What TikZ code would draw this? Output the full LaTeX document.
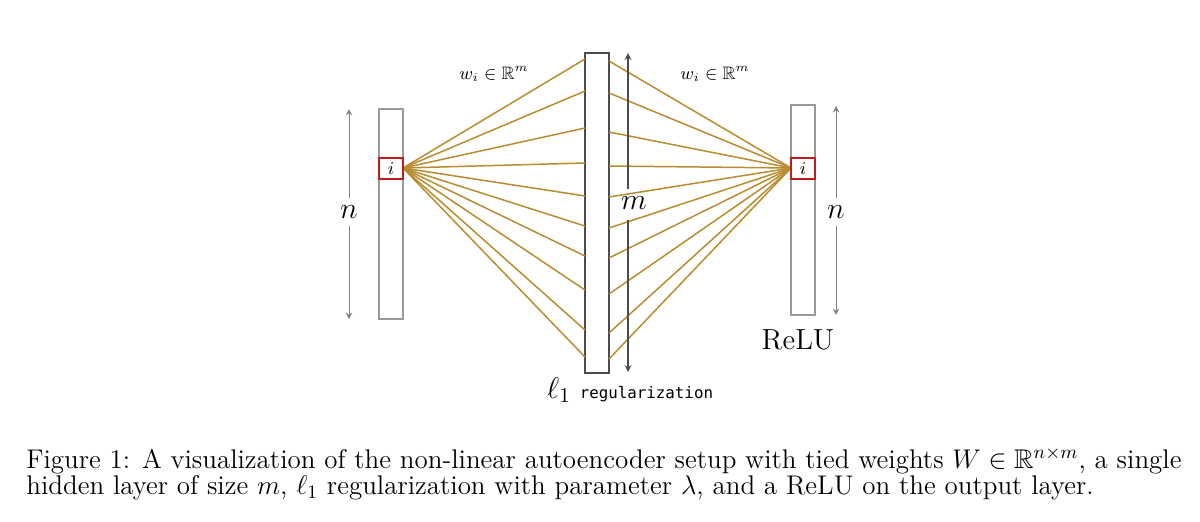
\documentclass[tikz,border=0pt]{standalone}
\usepackage{fix-cm}
\usepackage{amssymb}
\usepackage{fontspec}
\newfontfamily\monofam{DejaVu Sans Mono}
\definecolor{gold}{RGB}{184,140,48}
\definecolor{redbox}{RGB}{190,30,30}
\newcommand{\fs}[1]{\fontsize{#1}{#1}\selectfont}
\begin{document}
\begin{tikzpicture}[x=0.5pt,y=-0.5pt,
  bar/.style={draw=gray!80,line width=0.6pt},
  wline/.style={draw=gold,line width=0.75pt},
  dim/.style={draw=black!70,line width=0.45pt,-stealth},
  box/.style={draw=redbox,line width=0.8pt,fill=white}]
\useasboundingbox (0,0) rectangle (1200,521);
\draw[bar] (379,109) rectangle (403,319);
\draw[bar] (791,105) rectangle (815,315);
\draw[draw=black!70,line width=1pt] (585,53) rectangle (609,373);
\coordinate (L) at (403,168);
\coordinate (R) at (791,168);
\foreach \y [count=\k] in {59,91,128,163,196,226,256,290,330,357}{
  \coordinate (ml\k) at (585,\y);
  \draw[wline] (L) -- (ml\k);}
\foreach \y [count=\k] in {61,93,132,166,197,228,258,294,333,359}{
  \coordinate (mr\k) at (609,\y);
  \draw[wline] (mr\k) -- (R);}
\node[box,minimum width=12pt,minimum height=10.5pt,inner sep=0pt,font=\fs{9}] (bi) at (391,168.5) {$i$};
\node[box,minimum width=12pt,minimum height=10.5pt,inner sep=0pt,font=\fs{9}] (bo) at (803,168.5) {$i$};
\node[font=\fs{15}] (nl) at (349,212) {$n$};
\draw[dim,draw=black!50] (nl.north) -- (349,109);
\draw[dim,draw=black!50] (nl.south) -- (349,319);
\node[font=\fs{15}] (nr) at (836,212) {$n$};
\draw[dim,draw=black!50] (nr.north) -- (836,106);
\draw[dim,draw=black!50] (nr.south) -- (836,315);
\node[font=\fs{15}] (mm) at (634,203) {$m$};
\coordinate (mt) at (628,53);
\coordinate (mb) at (628,372);
\coordinate (m1) at (628,189);
\coordinate (m2) at (628,220);
\draw[dim,line width=0.55pt] (m1) -- (mt);
\draw[dim,line width=0.55pt] (m2) -- (mb);
\node[font=\fs{9}] (w1) at (494,74) {$w_i\in\mathbb{R}^m$};
\node[font=\fs{9}] (w2) at (715,74) {$w_i\in\mathbb{R}^m$};
\node[font=\fs{14.5}] (relu) at (798,340) {ReLU};
\node[font=\fs{15}] (reg) at (630,390) {$\ell_1$ {\fs{7.9}\monofam regularization}};
\node[anchor=west,font=\fs{13.5},inner sep=0pt] (c1) at (26,461) {Figure 1: A visualization of the non-linear autoencoder setup with tied weights $W\in\mathbb{R}^{n\times m}$, a single};
\node[anchor=west,font=\fs{13.5},inner sep=0pt] (c2) at (26,488) {hidden layer of size $m$, $\ell_1$ regularization with parameter $\lambda$, and a ReLU on the output layer.};
\end{tikzpicture}
\end{document}
